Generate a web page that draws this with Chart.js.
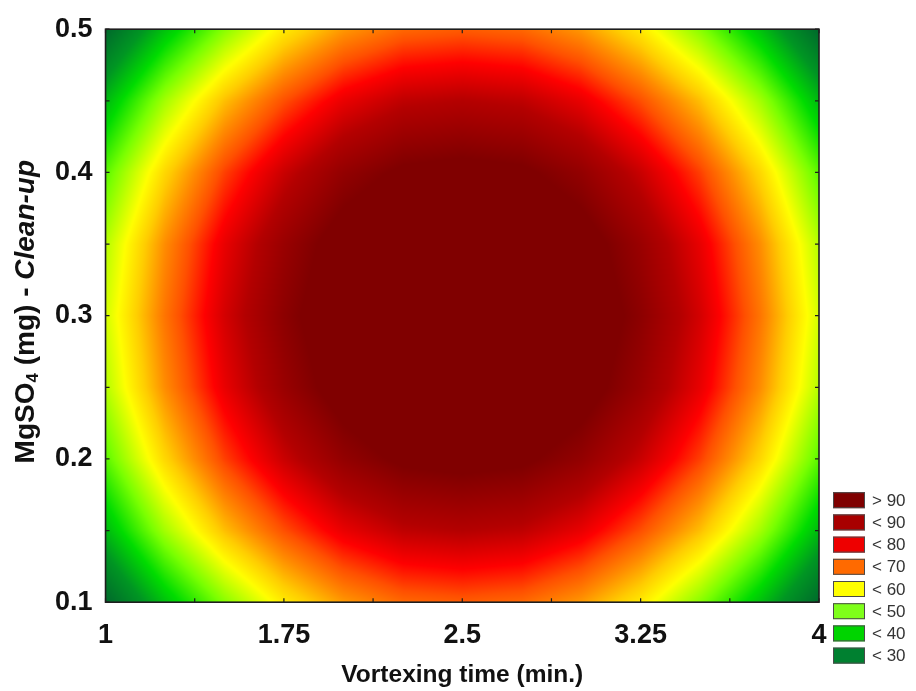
<!DOCTYPE html>
<html>
<head>
<meta charset="utf-8">
<script src="https://cdn.jsdelivr.net/npm/chart.js@4.4.1/dist/chart.umd.min.js"></script>
<style>
  html, body { margin: 0; padding: 0; background: #fff; }
  #wrap { width: 916px; height: 691px; }
</style>
</head>
<body>
<div id="wrap"><canvas id="chart" width="916" height="691"></canvas></div>
<script>
// grid the surface was read on
const vortexTimes = [1, 1.25, 1.5, 1.75, 2, 2.25, 2.5, 2.75, 3, 3.25, 3.5, 3.75, 4];
const mgso4Levels = [0.1, 0.15, 0.2, 0.25, 0.3, 0.35, 0.4, 0.45, 0.5];
// response, one row per MgSO4 level (bottom to top)
const response = [
  [21, 35, 47, 57, 64, 68, 69, 68, 64, 57, 47, 35, 21],
  [34, 49, 61, 70, 77, 81, 82, 81, 77, 70, 61, 49, 34],
  [44, 59, 71, 80, 87, 91, 92, 91, 87, 80, 71, 59, 44],
  [50, 65, 77, 86, 93, 97, 98, 97, 93, 86, 77, 65, 50],
  [52, 67, 79, 88, 95, 99, 100, 99, 95, 88, 79, 67, 52],
  [50, 65, 77, 86, 93, 97, 98, 97, 93, 86, 77, 65, 50],
  [44, 59, 71, 80, 87, 91, 92, 91, 87, 80, 71, 59, 44],
  [34, 49, 61, 70, 77, 81, 82, 81, 77, 70, 61, 49, 34],
  [21, 35, 47, 57, 64, 68, 69, 68, 64, 57, 47, 35, 21]
];
const xTicks = [1, 1.75, 2.5, 3.25, 4];
const yTicks = [0.1, 0.2, 0.3, 0.4, 0.5];
const legendLabels = ["> 90", "< 90", "< 80", "< 70", "< 60", "< 50", "< 40", "< 30"];
const legendColors = ["#800000", "#a80000", "#ee0000", "#ff6a00", "#ffff00", "#7fff1a", "#00d400", "#008030"];

// colour ramp: value, r, g, b
const shadeStops = [
  [20, 0, 100, 45],
  [30, 0, 150, 35],
  [38, 0, 220, 0],
  [46, 120, 255, 0],
  [55, 255, 255, 0],
  [60, 255, 205, 0],
  [65, 255, 140, 0],
  [70, 255, 80, 0],
  [75, 255, 0, 0],
  [82, 180, 0, 0],
  [90, 128, 0, 0],
  [101, 128, 0, 0]
];

function shade(v) {
  if (v <= shadeStops[0][0]) return shadeStops[0].slice(1);
  for (let i = 1; i < shadeStops.length; i++) {
    const b = shadeStops[i];
    if (v <= b[0]) {
      const a = shadeStops[i - 1];
      const t = (v - a[0]) / (b[0] - a[0]);
      return [a[1] + t * (b[1] - a[1]), a[2] + t * (b[2] - a[2]), a[3] + t * (b[3] - a[3])];
    }
  }
  return shadeStops[shadeStops.length - 1].slice(1);
}

function findCell(arr, v) {
  let i = 0;
  while (i < arr.length - 2 && v > arr[i + 1]) i++;
  const t = Math.min(1, Math.max(0, (v - arr[i]) / (arr[i + 1] - arr[i])));
  return [i, t];
}

function sample(xv, yv) {
  const [i, tx] = findCell(vortexTimes, xv);
  const [j, ty] = findCell(mgso4Levels, yv);
  const z00 = response[j][i], z10 = response[j][i + 1];
  const z01 = response[j + 1][i], z11 = response[j + 1][i + 1];
  return (z00 * (1 - tx) + z10 * tx) * (1 - ty) + (z01 * (1 - tx) + z11 * tx) * ty;
}

const gridPoints = [];
mgso4Levels.forEach((y, j) => vortexTimes.forEach((x, i) => gridPoints.push({ x: x, y: y, v: response[j][i] })));

const surfacePlugin = {
  id: "surface",
  beforeDatasetsDraw(chart) {
    const { ctx, chartArea: a, scales: { x, y } } = chart;
    const w = Math.round(a.right - a.left), h = Math.round(a.bottom - a.top);
    const off = document.createElement("canvas");
    off.width = w; off.height = h;
    const octx = off.getContext("2d");
    const img = octx.createImageData(w, h);
    const xs = [];
    for (let i = 0; i < w; i++) xs.push(x.getValueForPixel(a.left + i + 0.5));
    for (let j = 0; j < h; j++) {
      const yv = y.getValueForPixel(a.top + j + 0.5);
      for (let i = 0; i < w; i++) {
        const c = shade(sample(xs[i], yv));
        const k = (j * w + i) * 4;
        img.data[k] = c[0]; img.data[k + 1] = c[1]; img.data[k + 2] = c[2]; img.data[k + 3] = 255;
      }
    }
    octx.putImageData(img, 0, 0);
    ctx.drawImage(off, a.left, a.top, a.right - a.left, a.bottom - a.top);
  },
  afterDatasetsDraw(chart) {
    const { ctx, chartArea: a, scales: { x, y } } = chart;
    ctx.save();
    ctx.strokeStyle = "#1e1e1e";
    ctx.lineWidth = 1.2;
    ctx.beginPath();
    for (let v = 1; v <= 4.001; v += 0.375) {
      const px = x.getPixelForValue(v);
      ctx.moveTo(px, a.bottom); ctx.lineTo(px, a.bottom - 4);
      ctx.moveTo(px, a.top); ctx.lineTo(px, a.top + 4);
    }
    for (let v = 0.1; v <= 0.5001; v += 0.05) {
      const py = y.getPixelForValue(v);
      ctx.moveTo(a.left, py); ctx.lineTo(a.left + 4, py);
      ctx.moveTo(a.right, py); ctx.lineTo(a.right - 4, py);
    }
    ctx.stroke();
    ctx.lineWidth = 1.6;
    ctx.strokeRect(a.left, a.top, a.right - a.left, a.bottom - a.top);
    ctx.restore();
  },
  afterDraw(chart) {
    const { ctx, chartArea: a } = chart;
    const fam = "'Liberation Sans', Arial, sans-serif";
    // y axis title with subscript and italic part
    const parts = [
      ["MgSO", "bold 28px " + fam, 0],
      ["4", "bold 17px " + fam, 7],
      [" (mg) - ", "bold 28px " + fam, 0],
      ["Clean-up", "italic bold 28px " + fam, 0]
    ];
    ctx.save();
    let total = 0;
    parts.forEach(p => { ctx.font = p[1]; total += ctx.measureText(p[0]).width; });
    ctx.translate(26, (a.top + a.bottom) / 2 - 4);
    ctx.rotate(-Math.PI / 2);
    ctx.fillStyle = "#111";
    ctx.textBaseline = "middle";
    ctx.textAlign = "left";
    let cx = -total / 2;
    parts.forEach(p => {
      ctx.font = p[1];
      ctx.fillText(p[0], cx, p[2]);
      cx += ctx.measureText(p[0]).width;
    });
    ctx.restore();

    // legend
    ctx.save();
    const bx = a.right + 14, bw = 32, bh = 16, step = 22.2;
    const top0 = a.bottom - 110;
    ctx.font = "17px " + fam;
    ctx.textBaseline = "middle";
    legendLabels.forEach((lab, i) => {
      const by = top0 + i * step;
      ctx.fillStyle = legendColors[i];
      ctx.fillRect(bx, by, bw, bh);
      ctx.strokeStyle = "#4a4a4a";
      ctx.lineWidth = 1;
      ctx.strokeRect(bx + 0.5, by + 0.5, bw - 1, bh - 1);
      ctx.fillStyle = "#333";
      ctx.fillText(lab, bx + bw + 7, by + bh / 2 + 1);
    });
    ctx.restore();
  }
};

Chart.defaults.font.family = "'Liberation Sans', Arial, sans-serif";

new Chart(document.getElementById("chart"), {
  type: "scatter",
  data: {
    datasets: [{
      label: "Response",
      data: gridPoints,
      pointRadius: 0,
      pointHoverRadius: 0
    }]
  },
  options: {
    responsive: false,
    animation: false,
    devicePixelRatio: 1,
    layout: { padding: { left: 42, right: 97, top: 27, bottom: 1 } },
    plugins: {
      legend: { display: false },
      tooltip: { enabled: false }
    },
    scales: {
      x: {
        type: "linear",
        min: 1,
        max: 4,
        afterBuildTicks: s => { s.ticks = xTicks.map(v => ({ value: v })); },
        ticks: {
          font: { size: 27, weight: "bold" },
          color: "#111",
          padding: 17,
          maxRotation: 0,
          callback: v => String(v)
        },
        grid: { display: false, drawTicks: false },
        border: { display: false },
        title: {
          display: true,
          text: "Vortexing time (min.)",
          font: { size: 24.5, weight: "bold" },
          color: "#111",
          padding: { top: -8, bottom: 0 }
        }
      },
      y: {
        type: "linear",
        min: 0.1,
        max: 0.5,
        afterBuildTicks: s => { s.ticks = yTicks.map(v => ({ value: v })); },
        ticks: {
          font: { size: 27, weight: "bold" },
          color: "#111",
          padding: 13,
          callback: v => v.toFixed(1)
        },
        grid: { display: false, drawTicks: false },
        border: { display: false }
      }
    }
  },
  plugins: [surfacePlugin]
});
</script>
</body>
</html>
